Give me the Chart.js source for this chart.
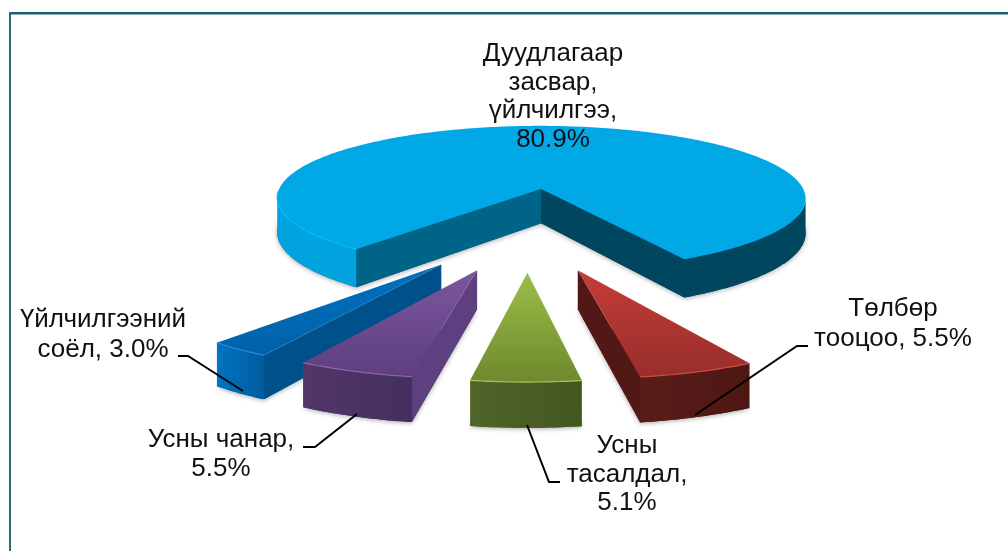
<!DOCTYPE html>
<html lang="mn">
<head>
<meta charset="UTF-8">
<title>Pie</title>
<style>
    html, body { margin: 0; padding: 0; background: #fff; }
    #wrap { position: relative; width: 1008px; height: 551px; overflow: hidden; }
    canvas { display: block; filter: blur(0.4px); }
</style>
<script src="https://cdn.jsdelivr.net/npm/chart.js"></script>
</head>
<body>
<div id="wrap"><canvas id="pie" width="1008" height="551"></canvas></div>
<script>
// values, clockwise from the first slice
const categories = ['Дуудлагаар засвар, үйлчилгээ', 'Төлбөр тооцоо', 'Усны тасалдал', 'Усны чанар', 'Үйлчилгээний соёл'];
const shares = [80.9, 5.5, 5.1, 5.5, 3.0];

// label text, one entry per line
const labelLines = [
    ['Дуудлагаар', 'засвар,', 'үйлчилгээ,', '80.9%'],
    ['Төлбөр', 'тооцоо, 5.5%'],
    ['Усны', 'тасалдал,', '5.1%'],
    ['Усны чанар,', '5.5%'],
    ['Үйлчилгээний', 'соёл, 3.0%']
];
const labelX = [553, 893, 627, 221, 103];
const labelY = [54, 309, 446, 440, 320];
const labelGap = [28.5, 29.5, 28.5, 29, 29.5];

// leader lines [x, y] on screen
const leaders = [
    null,
    [[695, 415], [797, 346], [808, 346]],
    [[527, 425], [549, 482], [560, 482]],
    [[357, 414], [315, 447], [303, 447]],
    [[243, 391], [188, 356], [178, 356]]
];

// top face [light, dark], outer wall [left, right], flat side wall
const topColors = [['#00A9E6', '#00A9E6'], ['#C63C38', '#972E2B'], ['#9DBD48', '#6E8A2E'], ['#7C569F', '#5E3F7E'], ['#0070C0', '#0062A8']];
const wallColors = [['#00A3DE', '#00465F'], ['#5A1C19', '#4D1714'], ['#506528', '#435620'], ['#523669', '#43305E'], ['#0074C4', '#005C9C']];
const sideColors = [['#006488', '#00465F'], [null, '#521816'], [null, null], ['#5E4080', null], ['#00508A', null]];
const rimColors = ['#00BFFF', '#D04A44', '#A8C455', '#8A64AE', '#1C8ADB'];

// view of the pie plane
const viewX = 528, viewY = 228, tilt = 0.29, eyeDist = 2100, worldRadius = 280, thickness = 36.5;

function project(x, f) {
    const s = 1 / (1 - f / eyeDist);
    return { x: viewX + x * s, y: viewY + f * tilt * s, s: s };
}

function projectLow(x, f) {
    const p = project(x, f);
    return { x: p.x, y: p.y + thickness * p.s, s: p.s };
}

const pie3d = {
    id: 'pie3d',
    beforeDatasetsDraw(chart) {
        const ctx = chart.ctx;
        const arcs = chart.getDatasetMeta(0).data;
        // back to front
        [0, 4, 3, 1, 2].forEach(i => drawSlice(ctx, arcs[i], i));
        return false;
    },
    afterDraw(chart) {
        const ctx = chart.ctx;
        ctx.save();
        ctx.strokeStyle = '#000';
        ctx.lineWidth = 2;
        leaders.forEach(pts => {
            if (!pts) return;
            ctx.beginPath();
            pts.forEach((p, n) => n ? ctx.lineTo(p[0], p[1]) : ctx.moveTo(p[0], p[1]));
            ctx.stroke();
        });
        ctx.fillStyle = '#111';
        ctx.font = '26px "Liberation Sans", Arial, sans-serif';
        ctx.textAlign = 'center';
        ctx.textBaseline = 'middle';
        labelLines.forEach((lines, i) => {
            lines.forEach((t, n) => ctx.fillText(t, labelX[i], labelY[i] + n * labelGap[i]));
        });
        ctx.restore();
    }
};

function drawSlice(ctx, arc, i) {
    const k = worldRadius / arc.outerRadius;
    const r = worldRadius;
    const e = arc.options.offset * k;
    const a0 = arc.startAngle, a1 = arc.endAngle, mid = (a0 + a1) / 2;
    const ax = Math.cos(mid) * e, af = Math.sin(mid) * e;
    const steps = Math.max(12, Math.ceil((a1 - a0) * 60));
    const angleAt = n => a0 + (a1 - a0) * n / steps;
    const rimX = a => ax + Math.cos(a) * r, rimF = a => af + Math.sin(a) * r;

    ctx.save();

    // soft shadow below the block
    ctx.save();
    ctx.shadowColor = 'rgba(0,0,0,0.35)';
    ctx.shadowBlur = 5;
    ctx.shadowOffsetY = 1;
    ctx.fillStyle = wallColors[i][1];
    ctx.beginPath();
    const b0 = projectLow(ax, af);
    ctx.moveTo(b0.x, b0.y);
    for (let n = 0; n <= steps; n++) {
        const p = projectLow(rimX(angleAt(n)), rimF(angleAt(n)));
        ctx.lineTo(p.x, p.y);
    }
    ctx.closePath();
    ctx.fill();
    ctx.restore();

    // side walls
    const side = (a, colour) => {
        if (!colour) return;
        const t0 = project(ax, af), t1 = project(rimX(a), rimF(a));
        const b1 = projectLow(rimX(a), rimF(a)), b2 = projectLow(ax, af);
        ctx.fillStyle = colour;
        ctx.beginPath();
        ctx.moveTo(t0.x, t0.y); ctx.lineTo(t1.x, t1.y); ctx.lineTo(b1.x, b1.y); ctx.lineTo(b2.x, b2.y);
        ctx.closePath();
        ctx.fill();
    };
    side(a0, sideColors[i][0]);
    side(a1, sideColors[i][1]);

    // outer wall: one path for each front facing run of the rim
    const xs = [];
    for (let n = 0; n <= steps; n++) xs.push(project(rimX(angleAt(n)), rimF(angleAt(n))).x);
    const lo = Math.min(...xs), hi = Math.max(...xs);
    const wall = ctx.createLinearGradient(lo, 0, hi, 0);
    wall.addColorStop(0, wallColors[i][0]);
    if (i === 0) {
        // big slice: lit on the left, in shade on the right
        wall.addColorStop(0.5, wallColors[i][0]);
        wall.addColorStop(0.5, wallColors[i][1]);
    }
    wall.addColorStop(1, wallColors[i][1]);
    let run = [];
    const flush = () => {
        if (run.length > 1) {
            ctx.beginPath();
            run.forEach((a, n) => {
                const p = project(rimX(a), rimF(a));
                if (n) ctx.lineTo(p.x, p.y); else ctx.moveTo(p.x, p.y);
            });
            run.slice().reverse().forEach(a => {
                const p = projectLow(rimX(a), rimF(a));
                ctx.lineTo(p.x, p.y);
            });
            ctx.closePath();
            ctx.fillStyle = wall;
            ctx.fill();
        }
        run = [];
    };
    for (let n = 0; n <= steps; n++) {
        const a = angleAt(n);
        const facing = (0 - rimX(a)) * Math.cos(a) + (eyeDist - rimF(a)) * Math.sin(a);
        if (facing > 0) run.push(a); else flush();
    }
    flush();

    // top face
    const c = project(ax, af);
    let yMin = c.y, yMax = c.y;
    ctx.beginPath();
    ctx.moveTo(c.x, c.y);
    for (let n = 0; n <= steps; n++) {
        const p = project(rimX(angleAt(n)), rimF(angleAt(n)));
        ctx.lineTo(p.x, p.y);
        yMin = Math.min(yMin, p.y); yMax = Math.max(yMax, p.y);
    }
    ctx.closePath();
    const g = ctx.createLinearGradient(0, yMin, 0, yMax);
    g.addColorStop(0, topColors[i][0]);
    g.addColorStop(1, topColors[i][1]);
    ctx.fillStyle = g;
    ctx.fill();

    // light rim along the front edge of the top face
    ctx.strokeStyle = rimColors[i];
    ctx.lineWidth = 1.2;
    ctx.beginPath();
    let started = false;
    for (let n = 0; n <= steps; n++) {
        const a = angleAt(n);
        const p = project(rimX(a), rimF(a));
        if (Math.sin(a) < 0.02 || (i === 0 && Math.cos(a) > 0)) { started = false; continue; }
        if (started) ctx.lineTo(p.x, p.y); else ctx.moveTo(p.x, p.y);
        started = true;
    }
    ctx.stroke();
    ctx.restore();
}

new Chart(document.getElementById('pie').getContext('2d'), {
    type: 'pie',
    data: {
        labels: categories,
        datasets: [{
            data: shares,
            backgroundColor: topColors.map(c => c[0]),
            borderWidth: 0,
            offset: 72,
            hoverOffset: 0
        }]
    },
    options: {
        responsive: false,
        animation: false,
        rotation: 220,
        radius: 140,
        events: [],
        plugins: { legend: { display: false }, tooltip: { enabled: false } }
    },
    plugins: [pie3d, {
        id: 'frame',
        beforeDraw(chart) {
            const ctx = chart.ctx;
            ctx.save();
            ctx.fillStyle = '#fff';
            ctx.fillRect(0, 0, 1008, 551);
            ctx.fillStyle = '#8FB0B8';
            ctx.fillRect(9, 14, 999, 1);
            ctx.fillStyle = '#1F5F68';
            ctx.fillRect(9, 12, 999, 2);
            ctx.fillStyle = '#2F6B7C';
            ctx.fillRect(9, 12, 2, 539);
            ctx.restore();
        }
    }]
});
</script>
</body>
</html>
